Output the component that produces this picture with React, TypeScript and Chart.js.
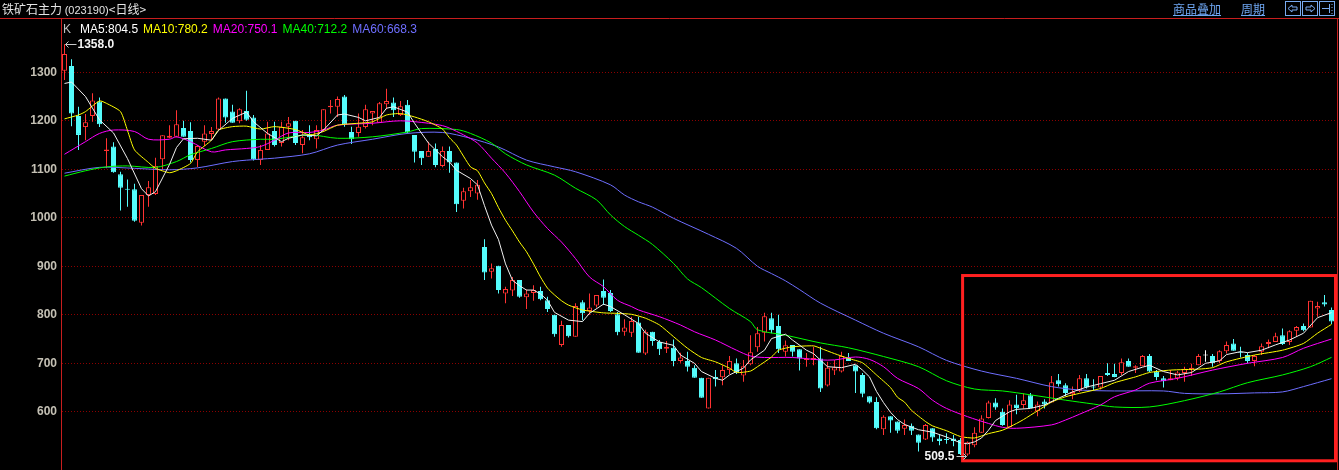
import React, { useEffect, useRef } from "react";
import { Chart, registerables } from "chart.js";

Chart.register(...registerables);

// ---------- data ----------
const opens = [
  1303, 1313, 1210, 1187, 1210, 1240, 1138, 1147, 1090, 1060,
  1059, 990, 1047, 1049, 1121, 1165, 1167, 1185, 1179, 1119,
  1157, 1173, 1182, 1246, 1219, 1199, 1220, 1207, 1119, 1140,
  1179, 1154, 1188, 1200, 1150, 1171, 1162, 1181, 1228, 1229,
  1250, 1177, 1175, 1187, 1215, 1196, 1234, 1238, 1212, 1233,
  1171, 1138, 1126, 1142, 1107, 1138, 1114, 1035, 1055, 1050,
  940, 889, 901, 844, 850, 872, 836, 845, 849, 830,
  800, 738, 779, 755, 826, 808, 819, 849, 845, 801,
  765, 763, 784, 720, 765, 744, 730, 732, 705, 705,
  691, 670, 607, 672, 671, 686, 700, 675, 698, 733,
  763, 793, 777, 724, 738, 729, 707, 707, 710, 654,
  685, 683, 712, 696, 676, 632, 620, 564, 591, 580,
  565, 571, 553, 543, 566, 545, 544, 545, 542, 512,
  531, 557, 587, 619, 600, 568, 615, 614, 634, 601,
  621, 619, 665, 655, 636, 643, 669, 652, 650, 680,
  678, 680, 705, 691, 694, 715, 683, 669, 665, 669,
  680, 688, 696, 716, 715, 705, 725, 741, 724, 717,
  705, 724, 740, 744, 758, 744, 767, 777, 774, 813,
  826, 810,
];
const highs = [
  1358, 1327, 1229, 1214, 1257, 1248, 1164, 1156, 1095, 1079,
  1070, 1047, 1076, 1124, 1170, 1191, 1222, 1200, 1197, 1150,
  1191, 1187, 1248, 1246, 1233, 1226, 1262, 1212, 1150, 1198,
  1198, 1198, 1208, 1200, 1181, 1191, 1191, 1224, 1243, 1250,
  1253, 1188, 1215, 1233, 1220, 1239, 1266, 1248, 1241, 1243,
  1171, 1138, 1157, 1153, 1147, 1147, 1114, 1062, 1078, 1078,
  956, 906, 901, 858, 878, 872, 852, 861, 858, 837,
  800, 788, 779, 824, 830, 844, 841, 873, 851, 806,
  791, 796, 796, 769, 765, 748, 746, 749, 722, 724,
  696, 670, 670, 686, 696, 715, 710, 707, 758, 775,
  804, 804, 800, 747, 738, 729, 721, 734, 734, 703,
  707, 724, 721, 696, 680, 632, 630, 593, 591, 580,
  584, 576, 553, 575, 566, 552, 556, 552, 546, 539,
  568, 593, 623, 628, 607, 624, 635, 638, 639, 621,
  626, 674, 678, 659, 652, 676, 678, 667, 674, 700,
  699, 710, 710, 696, 717, 719, 686, 674, 686, 684,
  693, 699, 719, 727, 719, 727, 745, 750, 734, 722,
  717, 741, 749, 763, 772, 768, 777, 782, 829, 827,
  841, 815,
];
const lows = [
  1284, 1189, 1140, 1160, 1198, 1187, 1102, 1093, 1015, 1023,
  992, 984, 1023, 1047, 1098, 1164, 1166, 1167, 1114, 1105,
  1148, 1160, 1181, 1196, 1196, 1195, 1200, 1118, 1109, 1140,
  1147, 1147, 1160, 1150, 1133, 1160, 1143, 1177, 1215, 1208,
  1188, 1152, 1167, 1184, 1191, 1196, 1224, 1208, 1210, 1174,
  1114, 1109, 1126, 1104, 1104, 1093, 1012, 1019, 1043, 1037,
  872, 875, 844, 824, 839, 835, 812, 829, 830, 806,
  755, 734, 753, 755, 789, 800, 815, 820, 806, 758,
  757, 754, 722, 717, 736, 717, 721, 694, 701, 683,
  670, 629, 607, 652, 655, 678, 678, 662, 696, 724,
  745, 762, 721, 714, 714, 685, 693, 696, 641, 652,
  676, 681, 705, 639, 630, 617, 564, 552, 557, 556,
  552, 552, 518, 542, 538, 531, 534, 529, 511, 509.5,
  527, 557, 586, 604, 571, 568, 595, 607, 608, 591,
  607, 619, 652, 632, 626, 641, 648, 645, 646, 674,
  671, 676, 693, 680, 694, 682, 665, 650, 665, 665,
  662, 674, 696, 703, 693, 700, 720, 726, 712, 700,
  694, 717, 731, 744, 738, 738, 755, 766, 774, 796,
  817, 781,
];
const closes = [
  1338, 1215, 1171, 1197, 1242, 1193, 1141, 1094, 1062, 1058,
  994, 1047, 1063, 1107, 1170, 1169, 1193, 1167, 1119, 1148,
  1174, 1179, 1246, 1207, 1196, 1224, 1202, 1121, 1140, 1174,
  1150, 1188, 1195, 1154, 1166, 1166, 1181, 1224, 1231, 1245,
  1193, 1162, 1188, 1224, 1220, 1236, 1241, 1222, 1230, 1176,
  1136, 1123, 1138, 1109, 1138, 1114, 1028, 1055, 1063, 1068,
  887, 896, 851, 853, 872, 837, 844, 851, 832, 812,
  760, 779, 756, 818, 803, 815, 841, 835, 808, 764,
  774, 787, 722, 765, 746, 729, 734, 705, 712, 693,
  670, 629, 670, 667, 686, 705, 681, 694, 723, 762,
  797, 768, 729, 737, 724, 710, 710, 711, 648, 691,
  692, 715, 705, 683, 637, 619, 566, 590, 582, 561,
  573, 561, 536, 573, 547, 540, 542, 540, 513, 537,
  557, 586, 619, 609, 573, 615, 608, 624, 608, 615,
  615, 661, 657, 639, 641, 669, 650, 650, 674, 676,
  672, 702, 693, 694, 715, 683, 672, 663, 669, 681,
  689, 691, 715, 716, 700, 725, 738, 726, 722, 705,
  715, 735, 744, 756, 740, 766, 775, 768, 829, 818,
  821, 786,
];

// moving-average readings: [candle index, value]
const ma5Points: [number, number][] = [
  [0, 1277], [1, 1280], [3, 1250], [5, 1202], [7, 1175], [9, 1122], [11, 1060], [12, 1045], [13, 1054],
  [15, 1110], [16, 1145], [17, 1163], [19, 1164], [21, 1160], [22, 1180], [24, 1205], [26, 1218], [27, 1198],
  [29, 1174], [31, 1157], [32, 1164], [34, 1171], [36, 1169], [37, 1181], [39, 1212], [40, 1214], [42, 1207],
  [43, 1200], [45, 1207], [46, 1226], [47, 1229], [49, 1218], [50, 1195], [52, 1154], [54, 1126], [55, 1115],
  [56, 1098], [58, 1081], [59, 1068], [60, 1025], [61, 985], [62, 955], [63, 905], [64, 871], [65, 860],
  [66, 851], [67, 851], [68, 843], [69, 830], [70, 805], [72, 789], [74, 786], [75, 803], [77, 822], [78, 817],
  [80, 800], [82, 782], [83, 762], [85, 744], [87, 737], [88, 717], [90, 700], [91, 683], [93, 669],
  [94, 665], [95, 676], [97, 690], [98, 707], [100, 727], [101, 751], [103, 760], [104, 748], [106, 727],
  [107, 720], [109, 693], [111, 691], [113, 698], [114, 686], [115, 672], [116, 642], [117, 619], [118, 599],
  [119, 584], [120, 574], [122, 563], [124, 558], [126, 548], [128, 536], [129, 534], [130, 538], [131, 546],
  [132, 562], [133, 582], [135, 600], [136, 605], [138, 607], [140, 614], [142, 628], [144, 641], [146, 651],
  [148, 658], [150, 665], [152, 683], [154, 692], [155, 696], [157, 683], [159, 676], [161, 681], [163, 700],
  [165, 705], [166, 718], [168, 724], [169, 722], [171, 727], [173, 738], [175, 748], [177, 762], [179, 794],
  [181, 804.5],
];
const ma10Points: [number, number][] = [
  [0, 1204], [2, 1212], [3, 1219], [5, 1241], [6, 1236], [8, 1219], [9, 1180], [10, 1140], [12, 1114],
  [13, 1102], [15, 1093], [16, 1097], [18, 1112], [19, 1136], [21, 1160], [22, 1181], [24, 1188], [26, 1189],
  [28, 1183], [30, 1188], [33, 1182], [35, 1171], [37, 1178], [39, 1191], [42, 1195], [44, 1198], [46, 1212],
  [48, 1215], [50, 1208], [52, 1198], [54, 1183], [55, 1165], [56, 1150], [58, 1105], [59, 1097], [60, 1072],
  [61, 1050], [62, 1021], [63, 995], [64, 973], [65, 950], [66, 930], [67, 905], [68, 878], [69, 855],
  [70, 841], [71, 829], [72, 820], [74, 810], [77, 804], [79, 803], [81, 801], [83, 793], [85, 779],
  [87, 755], [89, 731], [91, 712], [93, 703], [95, 690], [96, 681], [98, 684], [99, 693], [101, 713],
  [102, 727], [104, 734], [107, 736], [108, 731], [110, 720], [112, 710], [114, 701], [116, 676], [118, 650],
  [119, 630], [120, 620], [121, 603], [123, 580], [124, 571], [126, 561], [128, 549], [130, 546], [132, 555],
  [134, 562], [136, 576], [137, 584], [139, 602], [141, 620], [143, 631], [145, 638], [148, 648], [150, 660],
  [153, 672], [155, 681], [158, 686], [162, 688], [164, 691], [166, 703], [170, 717], [174, 727], [177, 741],
  [179, 762], [181, 780.2],
];
const ma20Points: [number, number][] = [
  [0, 1131], [3, 1157], [5, 1174], [7, 1181], [10, 1178], [12, 1162], [15, 1162], [16, 1167], [18, 1157],
  [21, 1136], [23, 1140], [26, 1143], [28, 1147], [30, 1160], [32, 1175], [35, 1176], [37, 1181], [39, 1191],
  [44, 1195], [48, 1200], [52, 1195], [54, 1190], [55, 1185], [57, 1171], [59, 1154], [61, 1123], [63, 1092],
  [65, 1054], [67, 1012], [69, 978], [71, 950], [73, 916], [75, 878], [77, 858], [79, 830], [81, 817],
  [82, 810], [85, 796], [88, 779], [90, 765], [93, 748], [96, 727], [98, 715], [100, 712], [104, 712],
  [108, 707], [110, 707], [113, 713], [115, 708], [117, 693], [119, 669], [122, 648], [124, 624], [126, 607],
  [129, 590], [132, 576], [134, 568], [136, 566], [141, 573], [143, 583], [145, 595], [148, 614], [150, 631],
  [153, 645], [155, 659], [159, 669], [164, 686], [169, 700], [174, 712], [177, 731], [181, 750.1],
];
const ma40Points: [number, number][] = [
  [0, 1086], [3, 1097], [6, 1105], [9, 1107], [13, 1104], [16, 1116], [18, 1130], [21, 1143], [24, 1157],
  [28, 1162], [30, 1162], [35, 1171], [39, 1164], [44, 1167], [49, 1177], [51, 1184], [56, 1182], [58, 1174],
  [61, 1154], [63, 1132], [66, 1109], [70, 1088], [73, 1061], [76, 1037], [78, 1006], [80, 982], [82, 964],
  [84, 945], [87, 906], [89, 874], [91, 856], [95, 813], [98, 786], [99, 769], [103, 758], [108, 742], [112, 732],
  [117, 714], [122, 693], [126, 664], [130, 647], [134, 643], [138, 635], [143, 624], [147, 616], [150, 610],
  [155, 610], [160, 623], [165, 641], [169, 660], [174, 676], [178, 693], [181, 712.2],
];
const ma60Points: [number, number][] = [
  [0, 1092], [5, 1104], [10, 1102], [15, 1099], [19, 1103], [24, 1116], [28, 1121], [30, 1123], [35, 1132],
  [39, 1150], [44, 1162], [49, 1174], [54, 1176], [58, 1164], [62, 1146], [66, 1119], [70, 1105], [73, 1095],
  [78, 1068], [80, 1047], [82, 1033], [84, 1022], [87, 999], [92, 966], [96, 937], [99, 900], [101, 885],
  [103, 870], [105, 852], [108, 824], [113, 789],
  [117, 762], [122, 734], [126, 706], [131, 684], [136, 669], [141, 652], [145, 645], [150, 643], [157, 643],
  [160, 638], [165, 637], [170, 639], [174, 641], [177, 652], [181, 668.3],
];

const yTicks = [600, 700, 800, 900, 1000, 1100, 1200, 1300];
const labels = closes.map((_, i) => `D${i + 1}`);
// highlighted region (candle index where it starts, price top/bottom)
const highlight = { fromIndex: 128.3, top: 881, bottom: 499 };

// ---------- styles ----------
const UP = "#ff3232";
const DOWN = "#54fcfc";
const FLAT = "#ffffff";
const LINE_COLORS = { ma5: "#f0f0f0", ma10: "#ffff00", ma20: "#ff00ff", ma40: "#00ff00", ma60: "#6e6eff" };
const NUM_FONT = "'Liberation Sans', Arial, sans-serif";

function sparse(points: [number, number][], n: number) {
  const arr: (number | null)[] = new Array(n).fill(null);
  points.forEach(([i, v]) => (arr[i] = v));
  return arr;
}

const overlayPlugin = {
  id: "overlay",
  afterDatasetsDraw(chart: any) {
    const { ctx, chartArea, scales } = chart;
    const xs = scales.x;
    const ys = scales.y;
    ctx.save();
    // frame lines
    ctx.strokeStyle = "#c81e1e";
    ctx.lineWidth = 1;
    ctx.beginPath();
    ctx.moveTo(0, chartArea.top + 0.5);
    ctx.lineTo(chart.width, chartArea.top + 0.5);
    ctx.moveTo(chartArea.right + 2.5, chartArea.top);
    ctx.lineTo(chartArea.right + 2.5, chart.height);
    ctx.stroke();

    // highlight box
    const bx1 = xs.getPixelForValue(highlight.fromIndex);
    const bx2 = chartArea.right + 0.5;
    const by1 = ys.getPixelForValue(highlight.top);
    const by2 = ys.getPixelForValue(highlight.bottom);
    ctx.strokeStyle = "#ff2020";
    ctx.lineWidth = 3;
    ctx.strokeRect(bx1, by1, bx2 - bx1, by2 - by1);

    // max / min annotations
    let maxI = 0, minI = 0;
    highs.forEach((h, i) => { if (h > highs[maxI]) maxI = i; });
    lows.forEach((l, i) => { if (l < lows[minI]) minI = i; });
    ctx.font = `bold 12px ${NUM_FONT}`;
    ctx.textBaseline = "middle";
    ctx.lineWidth = 1;
    ctx.strokeStyle = "#c8c8c8";

    const mx = xs.getPixelForValue(maxI);
    const my = Math.round(ys.getPixelForValue(highs[maxI])) + 0.5;
    ctx.beginPath();
    ctx.moveTo(mx + 1, my);
    ctx.lineTo(mx + 12, my);
    ctx.moveTo(mx + 1, my);
    ctx.lineTo(mx + 4, my - 3);
    ctx.moveTo(mx + 1, my);
    ctx.lineTo(mx + 4, my + 3);
    ctx.stroke();
    ctx.fillStyle = "#f4f4f4";
    ctx.textAlign = "left";
    ctx.fillText(highs[maxI].toFixed(1), mx + 13, my);

    const nx = xs.getPixelForValue(minI);
    const ny = Math.round(ys.getPixelForValue(lows[minI])) + 0.5;
    ctx.beginPath();
    ctx.moveTo(nx - 11, ny);
    ctx.lineTo(nx - 1, ny);
    ctx.moveTo(nx - 1, ny);
    ctx.lineTo(nx - 4, ny - 3);
    ctx.moveTo(nx - 1, ny);
    ctx.lineTo(nx - 4, ny + 3);
    ctx.stroke();
    ctx.textAlign = "right";
    ctx.fillText(lows[minI].toFixed(1), nx - 13, ny);
    ctx.restore();
  },
};

export default function App() {
  const canvasRef = useRef<HTMLCanvasElement | null>(null);

  useEffect(() => {
    const canvas = canvasRef.current;
    if (!canvas) return;
    const n = closes.length;
    const dir = closes.map((c, i) => (c > opens[i] ? 1 : c < opens[i] ? -1 : 0));
    const lineColor = dir.map((d) => (d > 0 ? UP : d < 0 ? DOWN : FLAT));
    const bodyFill = dir.map((d) => (d > 0 ? "#000000" : d < 0 ? DOWN : FLAT));

    const lineDs = (label: string, pts: [number, number][], color: string, tension: number, order: number) => ({
      type: "line" as const,
      label,
      data: sparse(pts, n),
      borderColor: color,
      borderWidth: 1,
      pointRadius: 0,
      spanGaps: true,
      tension,
      order,
    });

    const chart = new Chart(canvas, {
      type: "bar",
      data: {
        labels,
        datasets: [
          lineDs("MA5", ma5Points, LINE_COLORS.ma5, 0, 0),
          lineDs("MA10", ma10Points, LINE_COLORS.ma10, 0.2, 1),
          lineDs("MA20", ma20Points, LINE_COLORS.ma20, 0.3, 2),
          lineDs("MA40", ma40Points, LINE_COLORS.ma40, 0.3, 3),
          lineDs("MA60", ma60Points, LINE_COLORS.ma60, 0.3, 4),
          {
            type: "bar" as const,
            label: "body",
            data: opens.map((o, i) => [o, closes[i]]),
            backgroundColor: bodyFill,
            borderColor: lineColor,
            borderWidth: 1,
            borderSkipped: false,
            barThickness: 5,
            minBarLength: 1,
            grouped: false,
            inflateAmount: 0,
            order: 5,
          } as any,
          {
            type: "bar" as const,
            label: "wick",
            data: lows.map((l, i) => [l, highs[i]]),
            backgroundColor: lineColor,
            borderWidth: 0,
            barThickness: 1,
            grouped: false,
            inflateAmount: 0,
            order: 6,
          } as any,
        ],
      },
      options: {
        animation: false,
        responsive: false,
        events: [],
        layout: { padding: { left: 0, right: 4, top: 18, bottom: 0 } },
        plugins: {
          legend: { display: false },
          tooltip: { enabled: false },
          title: { display: false },
        },
        scales: {
          x: { type: "category", display: false, offset: true, grid: { display: false } },
          y: {
            type: "linear",
            position: "left",
            min: 480,
            max: 1412,
            afterBuildTicks: (s: any) => {
              s.ticks = yTicks.map((v) => ({ value: v }));
            },
            afterFit: (s: any) => {
              s.width = 61;
              s.paddingTop = 0;
              s.paddingBottom = 0;
            },
            ticks: {
              color: "#c4c0b4",
              padding: 4,
              font: { family: NUM_FONT, size: 12, weight: "bold" },
              callback: (v: any) => String(v),
            },
            grid: { color: "#8c0000", lineWidth: 1, drawTicks: false },
            border: { display: true, color: "#c81e1e", width: 1, dash: [1, 2] },
          } as any,
        },
      },
      plugins: [overlayPlugin],
    } as any);
    return () => chart.destroy();
  }, []);

  const last = (pts: [number, number][]) => pts[pts.length - 1][1].toFixed(1);
  const legendItems = [
    { text: `MA5:${last(ma5Points)}`, color: "#ffffff" },
    { text: `MA10:${last(ma10Points)}`, color: LINE_COLORS.ma10 },
    { text: `MA20:${last(ma20Points)}`, color: LINE_COLORS.ma20 },
    { text: `MA40:${last(ma40Points)}`, color: LINE_COLORS.ma40 },
    { text: `MA60:${last(ma60Points)}`, color: LINE_COLORS.ma60 },
  ];
  const linkStyle: React.CSSProperties = {
    position: "absolute",
    top: 2,
    color: "#6ea6f2",
    fontFamily: "'Noto Sans CJK SC', sans-serif",
    fontSize: 12,
    lineHeight: "14px",
    textDecoration: "underline",
    whiteSpace: "nowrap",
  };

  return (
    <div style={{ position: "fixed", left: 0, top: 0, width: 1339, height: 470, background: "#000", overflow: "hidden" }}>
      <canvas ref={canvasRef} width={1339} height={470} style={{ position: "absolute", left: 0, top: 0, display: "block" }} />
      <div
        style={{
          position: "absolute",
          left: 2,
          top: 2,
          color: "#e4e4e4",
          fontFamily: "'Noto Sans CJK SC', sans-serif",
          fontSize: 12,
          lineHeight: "14px",
          whiteSpace: "nowrap",
        }}
      >
        铁矿石主力 <span style={{ fontFamily: NUM_FONT, fontSize: 11 }}>(023190)</span>&lt;日线&gt;
      </div>
      <div style={{ ...linkStyle, left: 1173 }}>商品叠加</div>
      <div style={{ ...linkStyle, left: 1241 }}>周期</div>
      <svg width={52} height={16} style={{ position: "absolute", left: 1285, top: 1 }}>
        <g fill="none" stroke="#78aaf0" strokeWidth={1}>
          <rect x={0.5} y={0.5} width={15} height={14} />
          <rect x={17.5} y={0.5} width={15} height={14} />
          <rect x={34.5} y={0.5} width={15} height={14} />
          <path d="M3 7.5 L7 4 L7 6 L12 6 L12 9 L7 9 L7 11 Z" />
          <path d="M30 7.5 L26 4 L26 6 L21 6 L21 9 L26 9 L26 11 Z" />
          <path d="M37 7.5 L44 7.5 M44.5 3 L44.5 12" />
          <path d="M47 3 L47 4 M47 6 L47 7 M47 9 L47 10 M47 12 L47 13" />
        </g>
      </svg>
      <div
        style={{
          position: "absolute",
          left: 63,
          top: 22,
          fontFamily: NUM_FONT,
          fontSize: 12,
          lineHeight: "14px",
          whiteSpace: "nowrap",
        }}
      >
        <span style={{ color: "#c0c0c0", marginRight: 9 }}>K</span>
        {legendItems.map((it) => (
          <span key={it.text} style={{ color: it.color, marginRight: 5 }}>
            {it.text}
          </span>
        ))}
      </div>
    </div>
  );
}
